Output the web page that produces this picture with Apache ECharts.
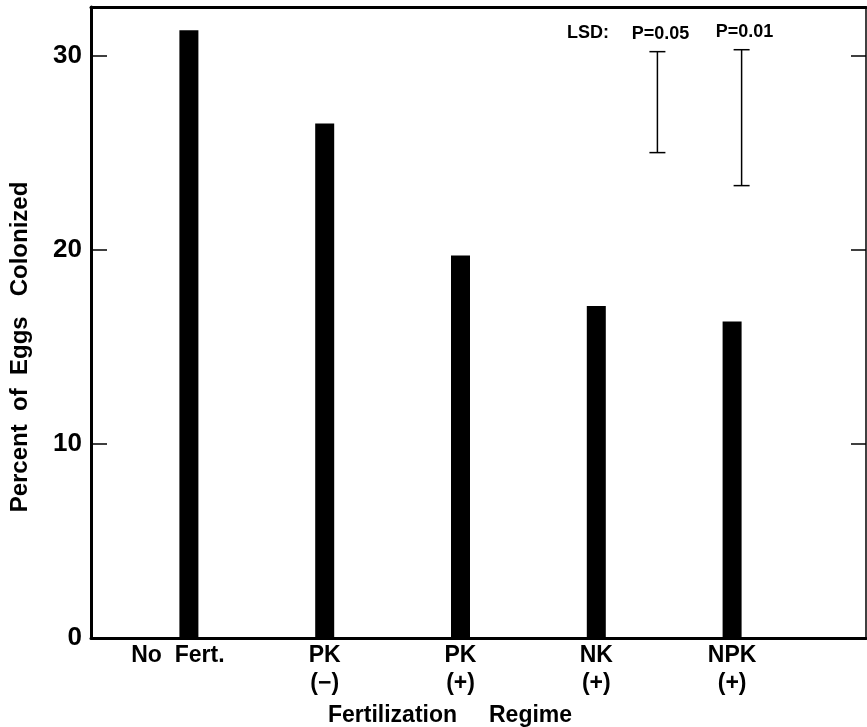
<!DOCTYPE html>
<html>
<head>
<meta charset="utf-8">
<script src="https://cdn.jsdelivr.net/npm/echarts@6/dist/echarts.min.js"></script>
<style>html,body{margin:0;padding:0;background:#fff;}#c{width:867px;height:727px;}</style>
</head>
<body>
<div id="c"></div>
<script>
const categories = ['No  Fert.', 'PK\n(\u2212)', 'PK\n(+)', 'NK\n(+)', 'NPK\n(+)'];
const percentColonized = [31.3, 26.5, 19.7, 17.1, 16.3];
const yTicks = [0, 10, 20, 30];
const lsdLabels = ['P=0.05', 'P=0.01'];
const lsdPos = [3.45, 4.07];
const lsdLow = [25.0, 23.3];
const lsdHigh = [30.2, 30.3];

const FONT = 'Liberation Sans';
const FW = 'bold';
const chart = echarts.init(document.getElementById('c'), null, {renderer: 'canvas'});
const lsdData = lsdPos.map((p, i) => [p, lsdLow[i], lsdHigh[i]]);
const catData = categories.map((c, i) => i === 0 ? {value: c, textStyle: {padding: [0, 22, 0, 0]}} : c);

chart.setOption({
  animation: false,
  backgroundColor: '#fff',
  textStyle: {fontFamily: FONT, color: '#000'},
  grid: [
    {left: 91, right: 1, top: 7, bottom: 89},
    {left: 121, width: 679, top: 7, bottom: 89}
  ],
  xAxis: [
    {gridIndex: 0, type: 'value', min: 0, max: 1, position: 'bottom',
     axisLine: {onZero: false, lineStyle: {color: '#000', width: 3}}, axisTick: {show: false},
     axisLabel: {show: false}, splitLine: {show: false}},
    {gridIndex: 0, type: 'value', min: 0, max: 1, position: 'top',
     axisLine: {onZero: false, lineStyle: {color: '#000', width: 3}}, axisTick: {show: false},
     axisLabel: {show: false}, splitLine: {show: false}},
    {gridIndex: 1, type: 'category', data: catData, position: 'bottom',
     axisLine: {show: false, onZero: false}, axisTick: {show: false},
     axisLabel: {fontSize: 23, lineHeight: 28, color: '#000', margin: 4, fontFamily: FONT, fontWeight: FW, interval: 0}},
    {gridIndex: 1, type: 'value', min: -0.5, max: 4.5, show: false}
  ],
  yAxis: [
    {gridIndex: 0, type: 'value', min: 0, max: 32.5, interval: 10, position: 'left',
     axisLine: {show: true, onZero: false, lineStyle: {color: '#000', width: 3}},
     axisTick: {show: true, inside: true, length: 16, lineStyle: {color: '#000', width: 1.5}},
     axisLabel: {fontSize: 26, color: '#000', margin: 9, fontFamily: FONT, fontWeight: FW,
       formatter: v => (yTicks.indexOf(v) >= 0 ? String(v) : '')},
     splitLine: {show: false}},
    {gridIndex: 0, type: 'value', min: 0, max: 32.5, interval: 10, position: 'right',
     axisLine: {show: true, onZero: false, lineStyle: {color: '#000', width: 1.5}},
     axisTick: {show: true, inside: true, length: 15, lineStyle: {color: '#000', width: 1.5}},
     axisLabel: {show: false}, splitLine: {show: false}},
    {gridIndex: 1, type: 'value', min: 0, max: 32.5, show: false}
  ],
  series: [
    {type: 'bar', xAxisIndex: 2, yAxisIndex: 2, data: percentColonized, barWidth: 19,
     itemStyle: {color: '#000'}},
    {type: 'custom', xAxisIndex: 3, yAxisIndex: 2, data: lsdData,
     encode: {x: 0, y: [1, 2]},
     renderItem: function (params, api) {
       const x = api.value(0), lo = api.value(1), hi = api.value(2);
       const a = api.coord([x, lo]), b = api.coord([x, hi]);
       const w = 8;
       const st = {stroke: '#000', lineWidth: 1.5};
       return {type: 'group', children: [
         {type: 'line', shape: {x1: a[0], y1: a[1], x2: b[0], y2: b[1]}, style: st},
         {type: 'line', shape: {x1: a[0] - w, y1: a[1], x2: a[0] + w, y2: a[1]}, style: st},
         {type: 'line', shape: {x1: b[0] - w, y1: b[1], x2: b[0] + w, y2: b[1]}, style: st},
         {type: 'text', style: {text: lsdLabels[params.dataIndex], x: b[0] + 3, y: b[1] - 18,
           align: 'center', verticalAlign: 'middle', textAlign: 'center', textVerticalAlign: 'middle',
           fontSize: 18, fontFamily: FONT, fontWeight: FW, fill: '#000'}}
       ]};
     }}
  ],
  graphic: [
    {type: 'text', left: 567, top: 24, style: {text: 'LSD:', fontSize: 18, fontFamily: FONT, fontWeight: FW, fill: '#000'}},
    {type: 'text', left: 328, top: 704, style: {text: 'Fertilization     Regime', fontSize: 23, fontFamily: FONT, fontWeight: FW, fill: '#000'}},
    {type: 'text', x: 20, y: 347, rotation: Math.PI / 2,
     style: {text: 'Percent  of  Eggs   Colonized', fontSize: 24, fontFamily: FONT, fontWeight: FW, fill: '#000',
       align: 'center', verticalAlign: 'middle', textAlign: 'center', textVerticalAlign: 'middle'}}
  ]
});
</script>
</body>
</html>
